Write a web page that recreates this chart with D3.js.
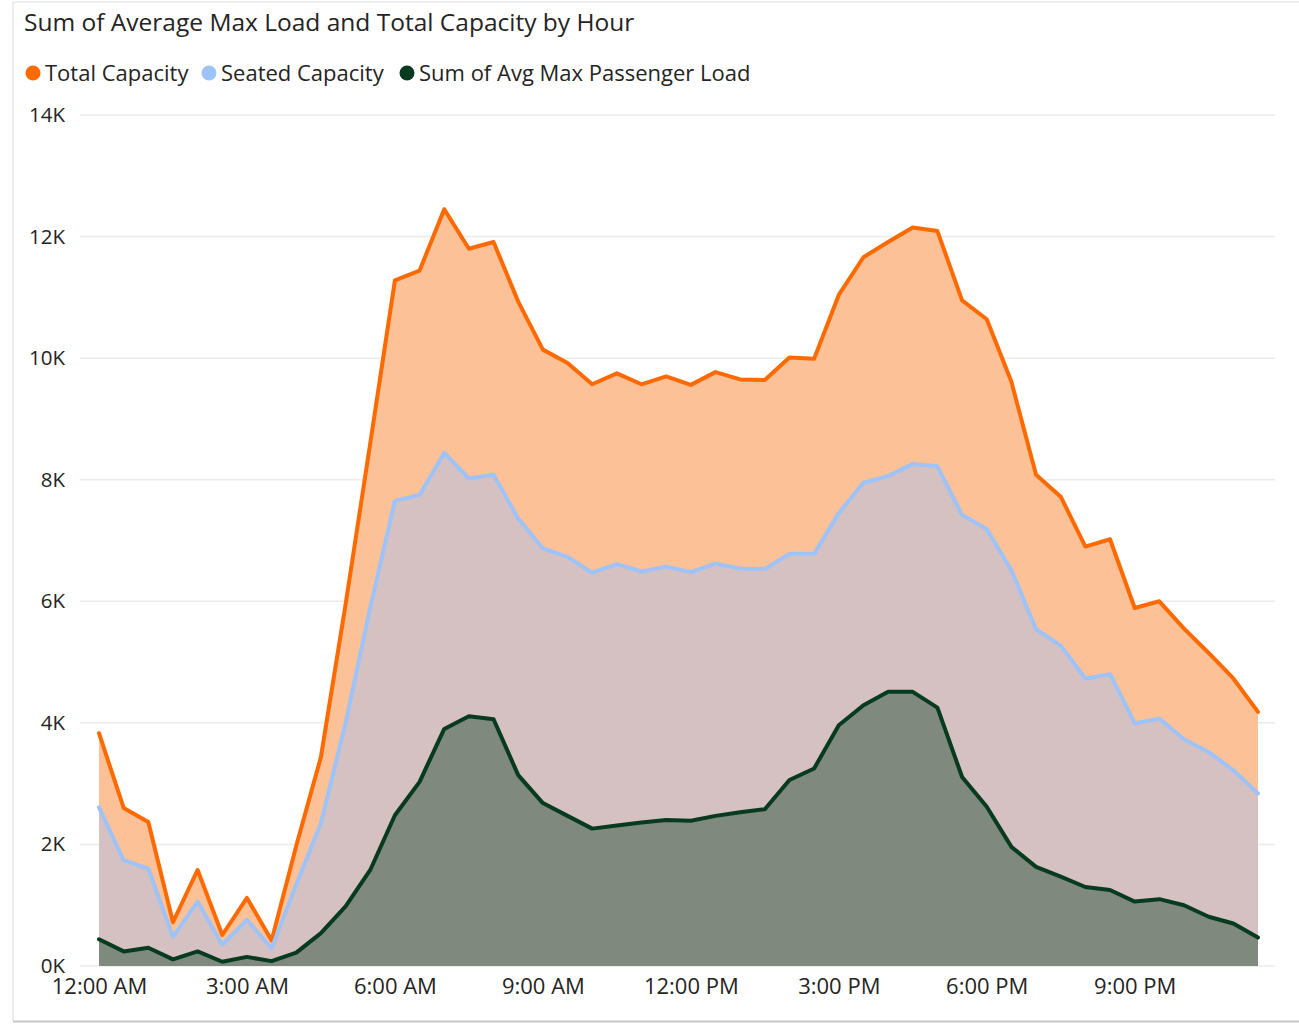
<!DOCTYPE html>
<html>
<head>
<meta charset="utf-8">
<script src="https://cdn.jsdelivr.net/npm/d3@7"></script>
<style>
  html, body { margin: 0; padding: 0; background: #fff; }
  svg { display: block; }
  text { font-family: "Open Sans", "Noto Sans", sans-serif; }
</style>
</head>
<body>
<svg id="chart" width="1299" height="1024"></svg>
<script>
// ---- data ----
const times = [
  "12:00 AM","12:30 AM","1:00 AM","1:30 AM","2:00 AM","2:30 AM","3:00 AM","3:30 AM",
  "4:00 AM","4:30 AM","5:00 AM","5:30 AM","6:00 AM","6:30 AM","7:00 AM","7:30 AM",
  "8:00 AM","8:30 AM","9:00 AM","9:30 AM","10:00 AM","10:30 AM","11:00 AM","11:30 AM",
  "12:00 PM","12:30 PM","1:00 PM","1:30 PM","2:00 PM","2:30 PM","3:00 PM","3:30 PM",
  "4:00 PM","4:30 PM","5:00 PM","5:30 PM","6:00 PM","6:30 PM","7:00 PM","7:30 PM",
  "8:00 PM","8:30 PM","9:00 PM","9:30 PM","10:00 PM","10:30 PM","11:00 PM","11:30 PM"
];
const totalCapacity = [
  3830,2600,2370,720,1580,510,1120,420,
  1980,3440,5950,8600,11280,11440,12450,11800,
  11910,10930,10140,9920,9570,9750,9570,9700,
  9560,9770,9650,9640,10010,9990,11040,11660,
  11910,12150,12090,10950,10640,9610,8080,7720,
  6900,7020,5890,6000,5550,5150,4730,4180
];
const seatedCapacity = [
  2610,1740,1600,480,1060,350,760,290,
  1340,2350,4000,5900,7650,7750,8440,8020,
  8080,7360,6870,6730,6470,6610,6490,6570,
  6480,6620,6540,6530,6780,6780,7450,7950,
  8060,8260,8220,7420,7190,6510,5540,5270,
  4730,4800,3990,4070,3730,3520,3220,2840
];
const avgMaxLoad = [
  440,240,300,110,240,70,150,80,
  220,540,980,1580,2480,3030,3900,4110,
  4060,3140,2680,2470,2260,2310,2360,2400,
  2390,2470,2530,2580,3060,3250,3960,4290,
  4510,4510,4250,3110,2620,1960,1630,1470,
  1300,1250,1060,1100,1000,810,700,470
];
const yTicks = [0, 2000, 4000, 6000, 8000, 10000, 12000, 14000];
const xTickLabels = ["12:00 AM","3:00 AM","6:00 AM","9:00 AM","12:00 PM","3:00 PM","6:00 PM","9:00 PM"];
const seriesNames = ["Total Capacity","Seated Capacity","Sum of Avg Max Passenger Load"];

// ---- styles ----
const lineColors = ["#FF6A00", "#9EC3F8", "#073B1F"];
const fillColors = ["#FCC197", "#D5C1C2", "#7F897D"];
const seriesValues = [totalCapacity, seatedCapacity, avgMaxLoad];

const svg = d3.select("#chart");

// card frame
svg.append("line").attr("x1", 13).attr("x2", 1299).attr("y1", 2).attr("y2", 2)
  .attr("stroke", "#eeeeee").attr("stroke-width", 2);
svg.append("line").attr("x1", 13).attr("x2", 13).attr("y1", 2).attr("y2", 1021)
  .attr("stroke", "#e6e6e6").attr("stroke-width", 1.5);
svg.append("line").attr("x1", 13).attr("x2", 1299).attr("y1", 1021.5).attr("y2", 1021.5)
  .attr("stroke", "#c8c8c8").attr("stroke-width", 2);

// title
svg.append("text").attr("x", 24).attr("y", 31)
  .attr("font-size", 24.5).attr("fill", "#252423")
  .text("Sum of Average Max Load and Total Capacity by Hour");

// legend
const legendX = [33, 209, 407];
seriesNames.forEach((name, i) => {
  svg.append("circle").attr("cx", legendX[i]).attr("cy", 73).attr("r", 7.5)
    .attr("fill", lineColors[i]);
  svg.append("text").attr("x", legendX[i] + 12).attr("y", 73)
    .attr("dy", "0.35em").attr("font-size", 22).attr("fill", "#252423")
    .text(name);
});

// scales
const x = d3.scalePoint().domain(times).range([99, 1258]);
const y = d3.scaleLinear().domain([0, 14000]).range([966, 115]);

// gridlines
svg.append("g")
  .selectAll("line").data(yTicks).join("line")
  .attr("x1", 80).attr("x2", 1275)
  .attr("y1", d => y(d)).attr("y2", d => y(d))
  .attr("stroke", "#ebebeb").attr("stroke-width", 1.5);

// y axis
const yAxis = d3.axisLeft(y).tickValues(yTicks).tickSize(0).tickPadding(0)
  .tickFormat(d => (d / 1000) + "K");
const gy = svg.append("g").attr("transform", "translate(65,0)").call(yAxis);
gy.select(".domain").remove();
gy.selectAll("text").attr("font-size", 20.5).attr("fill", "#252423")
  .attr("font-family", "\"Open Sans\", sans-serif");

// x axis
const xAxis = d3.axisBottom(x).tickValues(xTickLabels).tickSize(0).tickPadding(0);
const gx = svg.append("g").attr("transform", "translate(0,978.5)").call(xAxis);
gx.select(".domain").remove();
gx.selectAll("text").attr("font-size", 22).attr("fill", "#252423")
  .attr("font-family", "\"Open Sans\", sans-serif");

// areas
seriesValues.forEach((vals, i) => {
  const area = d3.area()
    .x((d, j) => x(times[j]))
    .y0(y(0))
    .y1(d => y(d));
  svg.append("path").datum(vals).attr("d", area).attr("fill", fillColors[i]);
});

// lines
seriesValues.forEach((vals, i) => {
  const line = d3.line()
    .x((d, j) => x(times[j]))
    .y(d => y(d));
  svg.append("path").datum(vals).attr("d", line)
    .attr("fill", "none").attr("stroke", lineColors[i])
    .attr("stroke-width", 4).attr("stroke-linejoin", "round").attr("stroke-linecap", "round");
});
</script>
</body>
</html>
